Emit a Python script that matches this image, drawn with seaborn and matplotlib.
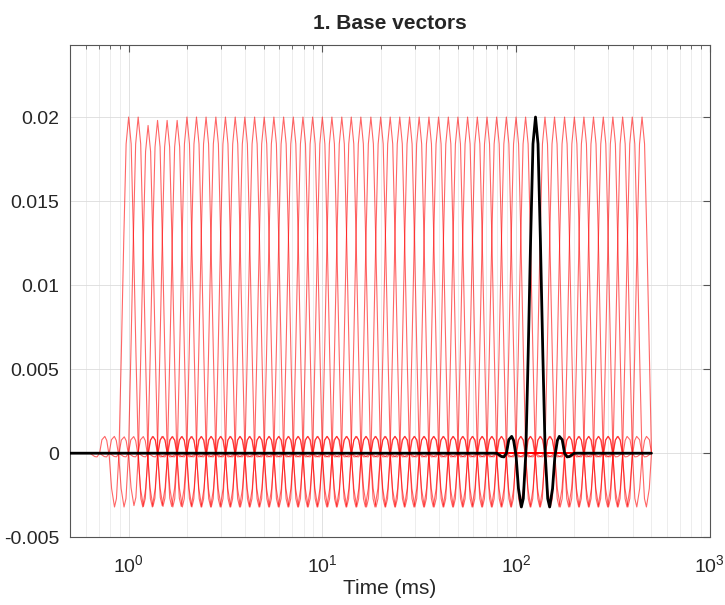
import numpy as np
import pandas as pd
import matplotlib
matplotlib.use('Agg')
import matplotlib.pyplot as plt
import seaborn as sns

# centre of each base vector (ms)
centers = [1.00, 1.12, 1.26, 1.41, 1.58, 1.78, 2.00, 2.24, 2.51, 2.82,
           3.16, 3.55, 3.98, 4.47, 5.01, 5.62, 6.31, 7.08, 7.94, 8.91,
           10.0, 11.2, 12.6, 14.1, 15.8, 17.8, 20.0, 22.4, 25.1, 28.2,
           31.6, 35.5, 39.8, 44.7, 50.1, 56.2, 63.1, 70.8, 79.4, 89.1,
           100, 112, 126, 141, 158, 178, 200, 224, 251, 282,
           316, 355, 398, 447]
# peak heights (the first few are a bit lower)
peaks = [0.0200, 0.0200, 0.0195, 0.0198, 0.0198, 0.0198] + [0.0200] * 48
highlight = 42  # the black one, ~126 ms

# shape of one vector: offset from centre (decades) and relative amplitude
kernel_offset = [-0.200, -0.175, -0.163, -0.150, -0.138, -0.123, -0.113,
                 -0.100, -0.088, -0.073, -0.063, -0.050, -0.038, -0.025,
                 -0.013, 0.000, 0.013, 0.025, 0.038, 0.050, 0.063, 0.073,
                 0.088, 0.100, 0.113, 0.123, 0.138, 0.150, 0.163, 0.175,
                 0.200]
kernel_amp = [0.000, -0.010, -0.011, 0.000, 0.040, 0.050, 0.038,
              -0.010, -0.105, -0.160, -0.135, 0.000, 0.290, 0.640,
              0.920, 1.000, 0.920, 0.640, 0.290, 0.000, -0.135, -0.160,
              -0.105, -0.010, 0.038, 0.050, 0.040, 0.000, -0.011, -0.010,
              0.000]

t_start, t_end = 0.5, 500.0

rows = []
for i, (c, p) in enumerate(zip(centers, peaks)):
    rows.append((i, t_start, 0.0))
    for off, a in zip(kernel_offset, kernel_amp):
        t = c * 10 ** off
        if t_start <= t <= t_end:
            rows.append((i, t, a * p))
    rows.append((i, t_end, 0.0))
df = pd.DataFrame(rows, columns=['vector', 'time', 'amp'])

sns.set_style('white')
plt.rcParams['font.family'] = ['Liberation Sans', 'DejaVu Sans']

fig = plt.figure(figsize=(7.25, 6.05), dpi=100)
ax = fig.add_axes([0.097, 0.112, 0.882, 0.814])

sns.lineplot(data=df, x='time', y='amp', units='vector', estimator=None,
             sort=False, color='red', alpha=0.6, linewidth=0.8, ax=ax)
sns.lineplot(data=df[df['vector'] == highlight], x='time', y='amp',
             estimator=None, sort=False, color='black', linewidth=2.0,
             ax=ax, zorder=5)

ax.set_xscale('log')
ax.set_xlim(0.5, 1000)
ax.set_ylim(-0.005, 0.0243)
ax.set_yticks([-0.005, 0, 0.005, 0.01, 0.015, 0.02])
ax.set_yticklabels(['-0.005', '0', '0.005', '0.01', '0.015', '0.02'])

ax.grid(True, which='major', color='#dcdcdc', linewidth=0.6)
ax.grid(True, which='minor', axis='x', color='#e6e6e6', linewidth=0.5)
ax.tick_params(which='both', direction='in', top=True, right=True,
               labelsize=14, color='#555555')
ax.tick_params(which='major', length=5)
ax.tick_params(which='minor', length=3)
ax.tick_params(axis='x', which='major', pad=12)
ax.tick_params(axis='y', which='major', pad=8)
for s in ax.spines.values():
    s.set_color('#555555')
    s.set_linewidth(0.8)

ax.set_xlabel('Time (ms)', fontsize=15, labelpad=2)
ax.set_ylabel('')
ax.set_title('1. Base vectors', fontsize=15, fontweight='bold', pad=11)

fig.savefig('out.png', dpi=100)
